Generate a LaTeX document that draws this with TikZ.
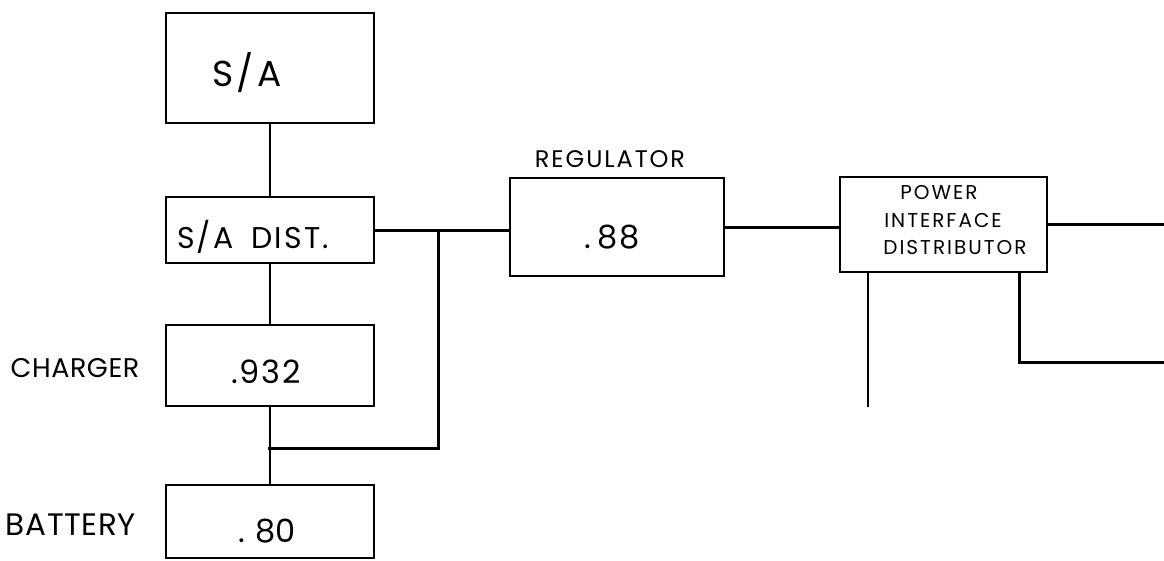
\documentclass[tikz,border=0pt]{standalone}
\usepackage{fontspec}
\setmainfont{Poppins}
\usetikzlibrary{calc}
\tikzset{
  blk/.style={draw=black, line width=2.4pt, minimum width=#1, inner sep=0pt},
  wire/.style={line width=2pt},
  bus/.style={line width=3pt},
  lbl/.style 2 args={inner sep=0pt, anchor=base, font=\fontsize{#1}{#1}\selectfont\addfontfeature{LetterSpace=#2}},
}
\begin{document}
\begin{tikzpicture}[x=1pt,y=-1pt]
\useasboundingbox (0,0) rectangle (1164,560);
% boxes
\node[blk=208pt, minimum height=110pt] (SA) at (270,68) {};
\node[blk=208pt, minimum height=66pt] (SAD) at (270,230) {};
\node[blk=208pt, minimum height=81pt] (CHG) at (270,365.5) {};
\node[blk=208pt, minimum height=73pt] (BAT) at (270,521.5) {};
\node[blk=214pt, minimum height=98pt] (REG) at (617,227) {};
\node[blk=207pt, minimum height=95pt] (PID) at (943.5,224.5) {};
% box texts
\node[lbl={36pt}{10}] (tSA) at (247,86) {S/A};
\node[lbl={30pt}{7}, anchor=base west] (tSAD) at (177,248) {S/A\hspace{0.6em}DIST.};
\node[lbl={32pt}{6}] (tCHG) at (266,383) {.932};
\node[lbl={32pt}{0}] (tBAT) at (267,542) {.\hspace{0.3em}80};
\node[lbl={32pt}{4}] (tREG) at (612,248) {.\hspace{0.2em}88};
\node[lbl={20pt}{10}] (tPID1) at (939,199) {POWER};
\node[lbl={20pt}{10}] (tPID2) at (943,227) {INTERFACE};
\node[lbl={20pt}{10}] (tPID3) at (955,254) {DISTRIBUTOR};
% outside labels
\node[lbl={24pt}{8}] (lREG) at (610,167) {REGULATOR};
\node[lbl={27pt}{2}] (lCHG) at (75,377) {CHARGER};
\node[lbl={31pt}{2}] (lBAT) at (71,535) {BATTERY};
% connectors
\coordinate (J) at (268,448);
\coordinate (B) at (438,230);
\coordinate (E1) at (1164,225);
\coordinate (E2) at (1164,362);
\coordinate (S1) at (868,407);
\draw[wire] (SA.south) -- (SAD.north);
\draw[wire] (SAD.south) -- (CHG.north);
\draw[wire] (CHG.south) -- (BAT.north);
\draw[bus] (J) -| (B);
\draw[bus] (SAD.east) -- (SAD.east -| REG.west);
\draw[bus] (REG.east) -- (REG.east -| PID.west);
\draw[bus] (PID.east) -- (E1 |- PID.east);
\draw[wire] (S1 |- PID.south) -- (S1);
\draw[bus] ([xshift=-29pt]PID.south east) |- (E2);
\end{tikzpicture}
\end{document}
